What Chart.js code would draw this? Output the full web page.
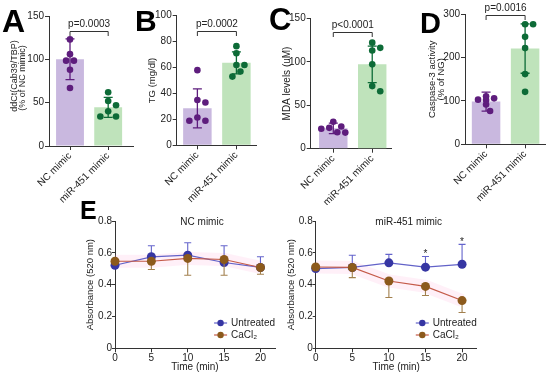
<!DOCTYPE html>
<html>
<head>
<meta charset="utf-8">
<script src="https://cdn.jsdelivr.net/npm/chart.js@4.4.0/dist/chart.umd.min.js"></script>
<style>
  body { margin: 0; background: #fff; width: 550px; height: 376px; position: relative; overflow: hidden; font-family: "Liberation Sans", Arial, sans-serif; }
  canvas { position: absolute; }
  .tag { position: absolute; font-weight: bold; line-height: 1; color: #000; }
</style>
</head>
<body>
<canvas id="cA" width="137" height="205" style="left:0;top:0"></canvas>
<canvas id="cB" width="135" height="205" style="left:137px;top:0"></canvas>
<canvas id="cC" width="133" height="205" style="left:272px;top:0"></canvas>
<canvas id="cD" width="145" height="205" style="left:405px;top:0"></canvas>
<canvas id="cE1" width="210" height="181" style="left:70px;top:195px"></canvas>
<canvas id="cE2" width="270" height="181" style="left:280px;top:195px"></canvas>

<div class="tag" style="left:2px;top:5px;font-size:32px">A</div>
<div class="tag" style="left:135px;top:6px;font-size:30px">B</div>
<div class="tag" style="left:269px;top:4px;font-size:31px">C</div>
<div class="tag" style="left:420px;top:9px;font-size:29px">D</div>
<div class="tag" style="left:80px;top:198px;font-size:25px">E</div>

<script>
// ---- data ----
const groups = ["NC mimic", "miR-451 mimic"];

const ticksA = [0, 50, 100, 150];
const meanA = [100, 44.6];
const sdA = [23.5, 11.6];
const dotsA = [[123, 106, 98.5, 98.5, 88, 67], [62, 52, 47, 40, 34, 34]];

const ticksB = [0, 20, 40, 60, 80, 100];
const meanB = [28.5, 63.6];
const sdB = [15, 8.5];
const dotsB = [[58, 35, 33, 21.5, 19, 19], [76.5, 71, 62, 62, 57, 53]];

const ticksC = [0, 50, 100, 150];
const meanC = [23.4, 97];
const sdC = [6, 21];
const dotsC = [[31, 25.5, 24, 23, 19, 18.5], [122, 116, 113, 97, 72, 66]];

const ticksD = [0, 100, 200, 300];
const meanD = [98.5, 221];
const sdD = [22, 57];
const dotsD = [[111, 106, 103, 102, 92, 77], [277, 277, 248, 222, 162, 121]];

const timeTicks = [0, 5, 10, 15, 20];
const absTicks = [0, 0.2, 0.4, 0.6, 0.8];
const ncUntreated = [0.522, 0.575, 0.585, 0.539, 0.508];
const ncUntreatedTop = [null, 0.644, 0.663, 0.644, 0.575];
const ncCacl2 = [0.547, 0.547, 0.565, 0.558, 0.508];
const ncCacl2Low = [null, 0.495, 0.459, 0.459, 0.465];
const mirUntreated = [0.501, 0.508, 0.537, 0.51, 0.528];
const mirUntreatedTop = [null, 0.585, 0.59, 0.577, 0.653];
const mirCacl2 = [0.511, 0.508, 0.423, 0.389, 0.30];
const mirCacl2Low = [null, 0.444, 0.319, 0.332, 0.225];
const mirStars = ["", "", "", "*", "*"];

// ---- styles ----
const FONT = '"Liberation Sans", Arial, sans-serif';
Chart.defaults.font.family = FONT;
Chart.defaults.color = "#222";
const axisColor = "#333";
const barColors = ["#c9b8df", "#bfe3bb"];
const dotColors = ["#5e1d7d", "#0d6b37"];

// spread dots with equal values sideways (simple beeswarm)
function swarm(values, span) {
  const pxPerVal = 130 / span, unitPx = 38.5, d = 6.6;
  const placed = [];
  return values.map(v => {
    const y = v * pxPerVal;
    for (const k of [0, 1, -1, 2, -2, 3, -3]) {
      const x = k * d * 0.6;
      if (placed.every(p => Math.hypot(p.x - x, p.y - y) >= d)) {
        placed.push({ x, y });
        return x / unitPx;
      }
    }
    return 0;
  });
}

const errBars = {
  id: "errBars",
  afterDatasetDraw(chart, args, o) {
    if (args.meta.type !== "bar") return;
    const { ctx, scales: { x, y } } = chart;
    ctx.save();
    ctx.lineWidth = 1.3;
    o.means.forEach((m, i) => {
      const px = x.getPixelForValue(i);
      const t = y.getPixelForValue(m + o.sd[i]);
      const b = y.getPixelForValue(m - o.sd[i]);
      ctx.strokeStyle = dotColors[i];
      ctx.beginPath();
      ctx.moveTo(px, t); ctx.lineTo(px, b);
      ctx.moveTo(px - 4.5, t); ctx.lineTo(px + 4.5, t);
      ctx.moveTo(px - 4.5, b); ctx.lineTo(px + 4.5, b);
      ctx.stroke();
    });
    ctx.restore();
  }
};

const bracket = {
  id: "bracket",
  afterDraw(chart, args, o) {
    const { ctx, scales: { x, y } } = chart;
    const x0 = x.getPixelForValue(0), x1 = x.getPixelForValue(1);
    const yy = Math.round(y.getPixelForValue(o.level)) + 0.5;
    ctx.save();
    ctx.strokeStyle = axisColor;
    ctx.lineWidth = 1;
    ctx.beginPath();
    ctx.moveTo(x0, yy + 4.5); ctx.lineTo(x0, yy); ctx.lineTo(x1, yy); ctx.lineTo(x1, yy + 4.5);
    ctx.stroke();
    ctx.fillStyle = "#222";
    ctx.font = "10px " + FONT;
    ctx.textAlign = "center";
    ctx.textBaseline = "middle";
    ctx.fillText(o.text, (x0 + x1) / 2, yy - 7);
    ctx.restore();
  }
};

// rotated y title placed by hand (panel A)
const sideTitle = {
  id: "sideTitle",
  afterDraw(chart, args, o) {
    if (!o.lines) return;
    const ctx = chart.ctx;
    ctx.save();
    ctx.fillStyle = "#222";
    ctx.font = o.size + "px " + FONT;
    ctx.textAlign = "center";
    ctx.textBaseline = "middle";
    o.lines.forEach((t, i) => {
      ctx.save();
      ctx.translate(o.x[i], o.y[i]);
      ctx.rotate(-Math.PI / 2);
      ctx.fillText(t, 0, 0);
      ctx.restore();
    });
    ctx.restore();
  }
};

function barPanel(id, p) {
  const span = p.ticks[p.ticks.length - 1];
  const dots = p.dots.flatMap((vals, g) => swarm(vals, span).map((dx, j) => ({ x: g + dx, y: vals[j] })));
  new Chart(document.getElementById(id), {
    type: "bar",
    data: {
      datasets: [
        { type: "scatter", data: dots, pointRadius: 3.3, pointBorderWidth: 0,
          backgroundColor: dots.map(d => dotColors[Math.round(d.x)]), order: 0 },
        { type: "bar", data: p.means.map((m, i) => ({ x: i, y: m })), backgroundColor: barColors,
          barPercentage: 0.73, categoryPercentage: 1, order: 1 }
      ]
    },
    options: {
      responsive: false, animation: false, events: [],
      layout: { padding: { top: p.top, right: p.padRight, left: 0, bottom: 0 } },
      plugins: {
        legend: { display: false }, tooltip: { enabled: false },
        errBars: { means: p.means, sd: p.sd },
        bracket: { level: p.level, text: p.pText },
        sideTitle: p.side || {}
      },
      scales: {
        x: {
          type: "linear", min: p.xMin, max: p.xMax, offset: false,
          afterFit: s => { s.height = 205 - p.bottom; },
          afterBuildTicks: s => { s.ticks = groups.map((g, i) => ({ value: i })); },
          ticks: { autoSkip: false, minRotation: 45, maxRotation: 45, padding: 0, font: { size: 10 },
                   callback: v => groups[v] },
          grid: { drawOnChartArea: false, offset: false, tickLength: 4, color: axisColor },
          border: { color: axisColor }
        },
        y: {
          min: 0, max: span,
          afterFit: s => { s.width = p.yWidth; },
          afterBuildTicks: s => { s.ticks = p.ticks.map(v => ({ value: v })); },
          ticks: { padding: 1, font: { size: 10 } },
          grid: { drawOnChartArea: false, tickLength: 4, color: axisColor },
          border: { color: axisColor },
          title: p.title || { display: false }
        }
      }
    },
    plugins: [errBars, bracket, sideTitle]
  });
}

barPanel("cA", {
  ticks: ticksA, means: meanA, sd: sdA, dots: dotsA, level: 133, pText: "p=0.0003",
  top: 16, bottom: 146, yWidth: 49, padRight: 4, xMin: -0.55, xMax: 1.65,
  side: { lines: ["ddCt(Cab39/TBP)", "(% of NC mimic)"], x: [15, 23], y: [76, 78], size: 9 }
});
barPanel("cB", {
  ticks: ticksB, means: meanB, sd: sdB, dots: dotsB, level: 88.5, pText: "p=0.0002",
  top: 15.7, bottom: 145.3, yWidth: 39.7, padRight: 15.3, xMin: -0.53, xMax: 1.52,
  title: { display: true, text: "TG (mg/dl)", font: { size: 9.5, lineHeight: 1 }, padding: { top: 11, bottom: 0 } }
});
barPanel("cC", {
  ticks: ticksC, means: meanC, sd: sdC, dots: dotsC, level: 134.5, pText: "p<0.0001",
  top: 18.3, bottom: 148.7, yWidth: 38.7, padRight: 13.3, xMin: -0.58, xMax: 1.5,
  title: { display: true, text: "MDA levels (uM)", font: { size: 10, lineHeight: 1 }, padding: { top: 10, bottom: 0 } }
});
barPanel("cD", {
  ticks: ticksD, means: meanD, sd: sdD, dots: dotsD, level: 299.5, pText: "p=0.0016",
  top: 14.3, bottom: 144.3, yWidth: 60, padRight: 5, xMin: -0.54, xMax: 1.51,
  title: { display: true, text: ["Caspase-3 activity", "(% of NG)"], font: { size: 9.5, lineHeight: 0.88 }, padding: { top: 23.5, bottom: 0 } }
});

// ---- time course panels ----
const lineErr = {
  id: "lineErr",
  beforeDatasetDraw(chart, args) {
    const ds = chart.data.datasets[args.index];
    if (!ds.errEnd) return;
    const { ctx, scales: { y } } = chart;
    ctx.save();
    ctx.strokeStyle = ds.errColor;
    ctx.lineWidth = 1.1;
    args.meta.data.forEach((pt, i) => {
      const v = ds.errEnd[i];
      if (v == null) return;
      const e = y.getPixelForValue(v);
      ctx.beginPath();
      ctx.moveTo(pt.x, pt.y); ctx.lineTo(pt.x, e);
      ctx.moveTo(pt.x - 3.5, e); ctx.lineTo(pt.x + 3.5, e);
      ctx.stroke();
    });
    ctx.restore();
  },
  afterDraw(chart) {
    const { ctx, scales: { y } } = chart;
    chart.data.datasets.forEach((ds, k) => {
      if (!ds.stars) return;
      const meta = chart.getDatasetMeta(k);
      ctx.save();
      ctx.fillStyle = "#222";
      ctx.font = "10px " + FONT;
      ctx.textAlign = "center";
      ctx.textBaseline = "alphabetic";
      ds.stars.forEach((s, i) => {
        if (!s) return;
        ctx.fillText(s, meta.data[i].x, y.getPixelForValue(ds.errEnd[i]) + 1);
      });
      ctx.restore();
    });
  }
};

const panelText = {
  id: "panelText",
  afterDraw(chart, args, o) {
    const { ctx, chartArea: a } = chart;
    ctx.save();
    ctx.fillStyle = "#222";
    ctx.font = "10px " + FONT;
    ctx.textBaseline = "middle";
    ctx.textAlign = "center";
    ctx.fillText(o.title, a.left + o.titleDx, a.top + 1.5);
    // legend
    const items = o.order.map(i => chart.data.datasets[i]);
    ctx.textAlign = "left";
    const w = Math.max(...items.map(d => ctx.measureText(d.label).width));
    const tx = a.right - w;
    items.forEach((d, r) => {
      const yy = a.bottom - 25.3 + r * 12;
      ctx.strokeStyle = d.borderColor;
      ctx.lineWidth = 1.2;
      ctx.beginPath(); ctx.moveTo(tx - 17, yy); ctx.lineTo(tx - 4, yy); ctx.stroke();
      ctx.fillStyle = d.backgroundColor;
      ctx.beginPath(); ctx.arc(tx - 10.5, yy, 3.2, 0, Math.PI * 2); ctx.fill();
      ctx.fillStyle = "#222";
      ctx.fillText(d.label, tx, yy);
    });
    ctx.restore();
  }
};

function linePanel(id, p) {
  const xy = arr => timeTicks.map((t, i) => ({ x: t, y: arr[i] }));
  new Chart(document.getElementById(id), {
    type: "line",
    data: {
      datasets: [
        { label: "CaCl₂", data: xy(p.cacl2), errEnd: p.cacl2Low, errColor: "#a2804e",
          borderColor: "#c45a48", backgroundColor: "#8c5a1c", order: 0 },
        { label: "Untreated", data: xy(p.untreated), errEnd: p.untreatedTop, errColor: "#6464cc", stars: p.stars,
          borderColor: "#6262c8", backgroundColor: "#3636a3", order: 1 },
        { label: "", data: xy(p.cacl2), borderColor: "rgba(255,180,218,0.2)", borderWidth: 13,
          pointRadius: 0, order: 2 }
      ]
    },
    options: {
      responsive: false, animation: false, events: [],
      layout: { padding: { top: 26, right: p.padRight, left: 0, bottom: 0 } },
      datasets: { line: { borderWidth: 1.2, pointRadius: 4.5, pointBorderWidth: 0, clip: false, tension: 0 } },
      plugins: {
        legend: { display: false }, tooltip: { enabled: false },
        panelText: { title: p.title, titleDx: p.titleDx, order: [1, 0] }
      },
      scales: {
        x: {
          type: "linear", min: 0, max: 22,
          afterFit: s => { s.height = 27.7; },
          afterBuildTicks: s => { s.ticks = timeTicks.map(v => ({ value: v })); },
          ticks: { padding: 0, font: { size: 10 }, maxRotation: 0 },
          grid: { drawOnChartArea: false, tickLength: 4, color: axisColor },
          border: { color: axisColor },
          title: { display: true, text: "Time (min)", font: { size: 10, lineHeight: 1.2 }, padding: { top: 0, bottom: 3 } }
        },
        y: {
          min: 0, max: 0.8,
          afterFit: s => { s.width = p.yWidth; },
          afterBuildTicks: s => { s.ticks = absTicks.map(v => ({ value: v })); },
          ticks: { padding: 0, font: { size: 10 } },
          grid: { drawOnChartArea: false, tickLength: 3, color: axisColor },
          border: { color: axisColor },
          title: { display: true, text: "Absorbance (520 nm)", font: { size: 9.5, lineHeight: 1.2 }, padding: { top: p.yTitlePad, bottom: 0 } }
        }
      }
    },
    plugins: [lineErr, panelText]
  });
}

linePanel("cE1", {
  untreated: ncUntreated, untreatedTop: ncUntreatedTop, cacl2: ncCacl2, cacl2Low: ncCacl2Low,
  title: "NC mimic", titleDx: 87, yWidth: 45, padRight: 5, yTitlePad: 14.3
});
linePanel("cE2", {
  untreated: mirUntreated, untreatedTop: mirUntreatedTop, cacl2: mirCacl2, cacl2Low: mirCacl2Low, stars: mirStars,
  title: "miR-451 mimic", titleDx: 93, yWidth: 35.7, padRight: 73.3, yTitlePad: 6
});
</script>
</body>
</html>
